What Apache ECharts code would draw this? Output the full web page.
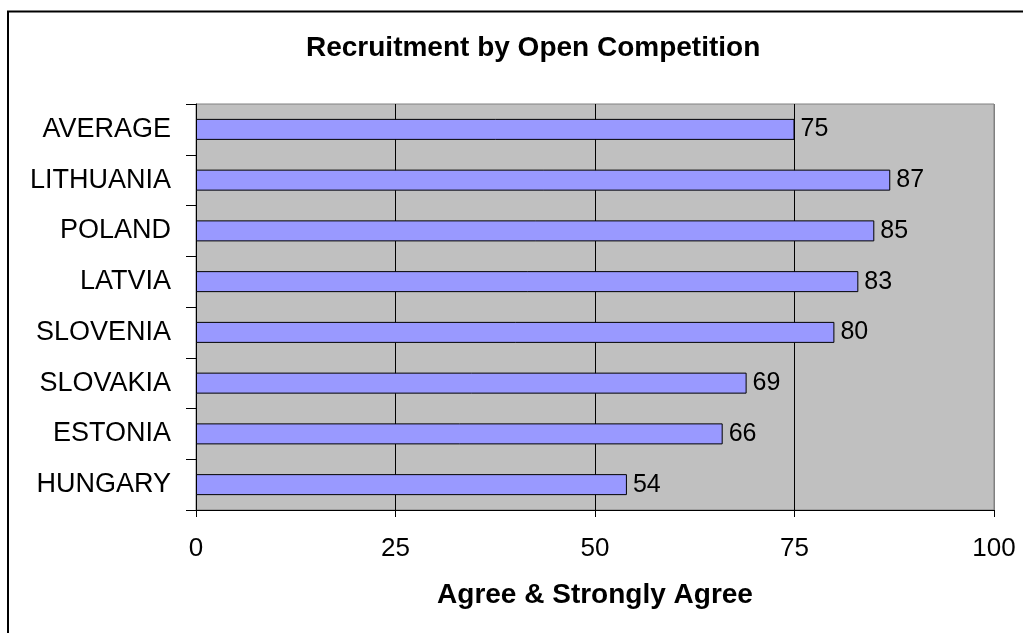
<!DOCTYPE html>
<html>
<head>
<meta charset="utf-8">
<script src="https://cdn.jsdelivr.net/npm/echarts@6/dist/echarts.min.js"></script>
<style>
html,body{margin:0;padding:0;background:#fff;}
#chart{width:1023px;height:633px;}
</style>
</head>
<body>
<div id="chart"></div>
<script>
const categories = ['AVERAGE','LITHUANIA','POLAND','LATVIA','SLOVENIA','SLOVAKIA','ESTONIA','HUNGARY'];
const values = [75, 87, 85, 83, 80, 69, 66, 54];
const xTicks = [0, 25, 50, 75, 100];

const FONT = '"Liberation Sans", Arial, sans-serif';
const chart = echarts.init(document.getElementById('chart'), null, {renderer:'canvas'});
chart.setOption({
  backgroundColor: '#ffffff',
  animation: false,
  title: {
    text: 'Recruitment by Open Competition',
    left: 301,
    top: 29,
    textStyle: {fontFamily: FONT, fontSize: 28, fontWeight: 'bold', color: '#000'}
  },
  graphic: [{
    type: 'rect',
    shape: {x: 8, y: 11.5, width: 1040, height: 660},
    style: {fill: null, stroke: '#000', lineWidth: 2},
    silent: true
  }],
  grid: {
    left: 196, right: 29, top: 104, bottom: 123,
    show: true, backgroundColor: '#c0c0c0', borderColor: '#808080', borderWidth: 1
  },
  xAxis: {
    type: 'value',
    min: xTicks[0], max: xTicks[xTicks.length - 1], interval: 25,
    name: 'Agree & Strongly Agree',
    nameLocation: 'middle',
    nameGap: 71,
    nameTextStyle: {fontFamily: FONT, fontSize: 28, fontWeight: 'bold', color: '#000'},
    axisLine: {show: true, lineStyle: {color: '#000', width: 1}},
    axisTick: {show: true, length: 7, lineStyle: {color: '#000'}},
    axisLabel: {fontFamily: FONT, fontSize: 26, color: '#000', margin: 26},
    splitLine: {show: true, lineStyle: {color: ['#000', '#000', '#000', '#000', '#808080'], width: 1}}
  },
  yAxis: {
    type: 'category',
    data: categories,
    inverse: true,
    axisLine: {show: true, lineStyle: {color: '#000', width: 1}},
    axisTick: {show: true, length: 10, lineStyle: {color: '#000'}},
    axisLabel: {fontFamily: FONT, fontSize: 27, color: '#000', margin: 25},
    splitLine: {show: false}
  },
  series: [{
    type: 'bar',
    data: values,
    barWidth: 21,
    itemStyle: {color: '#9999ff', borderColor: '#000', borderWidth: 1},
    label: {show: true, position: 'right', distance: 6, fontFamily: FONT, fontSize: 25, color: '#000'}
  }]
});
</script>
</body>
</html>
